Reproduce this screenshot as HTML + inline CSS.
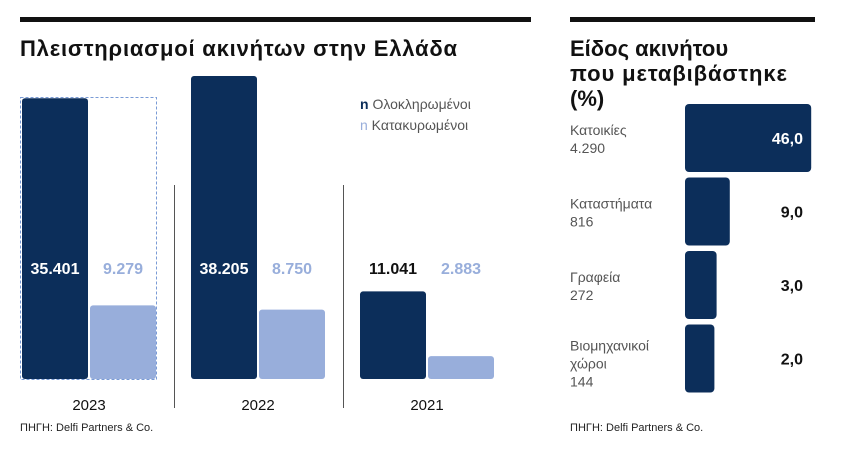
<!DOCTYPE html>
<html><head><meta charset="utf-8"><style>
body{margin:0;width:843px;height:454px;background:#fff;font-family:"Liberation Sans",sans-serif;overflow:hidden;position:relative}
</style></head><body>
<svg id="c" width="843" height="454" xmlns="http://www.w3.org/2000/svg">
<rect x="20" y="17" width="511" height="5" fill="#111"/>
<rect x="570" y="17" width="245" height="5" fill="#111"/>
<text x="20" y="56" font-size="22" font-weight="bold" fill="#111" textLength="437">Πλειστηριασμοί ακινήτων στην Ελλάδα</text>
<text x="570" y="56" font-size="22" font-weight="bold" fill="#111">Είδος ακινήτου</text>
<text x="570" y="81" font-size="22" font-weight="bold" fill="#111" textLength="217">που μεταβιβάστηκε</text>
<text x="570" y="106" font-size="22" font-weight="bold" fill="#111">(%)</text>
<rect x="20.5" y="97.5" width="136" height="282" fill="none" stroke="#7a9bd6" stroke-dasharray="3,2"/>
<line x1="174.5" y1="185" x2="174.5" y2="408" stroke="#555"/>
<line x1="343.5" y1="185" x2="343.5" y2="408" stroke="#555"/>
<text x="360" y="109" font-size="14" fill="#555"><tspan fill="#0c2e5a" font-weight="bold">n</tspan> Ολοκληρωμένοι</text>
<text x="360" y="130" font-size="14" fill="#555"><tspan fill="#98aedb">n</tspan> Κατακυρωμένοι</text>
<text x="20" y="431" font-size="11" fill="#222">ΠΗΓΗ: Delfi Partners &amp; Co.</text>
<text x="570" y="431" font-size="11" fill="#222">ΠΗΓΗ: Delfi Partners &amp; Co.</text>
<g id="left"></g><g id="right"></g>
</svg>
<script>
const years=["2023","2022","2021"];
const completed=[35401,38205,11041];
const auctioned=[9279,8750,2883];
const completedLabels=["35.401","38.205","11.041"];
const auctionedLabels=["9.279","8.750","2.883"];
const types=[["Κατοικίες","4.290"],["Καταστήματα","816"],["Γραφεία","272"],["Βιομηχανικοί","χώροι","144"]];
const shares=[46,9,3,2];
const shareLabels=["46,0","9,0","3,0","2,0"];
const NS="http://www.w3.org/2000/svg";
function mk(t,a,p){const e=document.createElementNS(NS,t);for(const k in a)e.setAttribute(k,a[k]);p.appendChild(e);return e;}
const L=document.getElementById('left'),R=document.getElementById('right');
const base=379,yk=303/38205;
const y=v=>base-v*yk;
const gx=i=>22+i*169;
years.forEach((yr,i)=>{
  const x=gx(i);
  const b1=mk('rect',{x:x,y:y(completed[i]),width:66,height:base-y(completed[i]),rx:3,fill:'#0c2e5a'},L);
  
  
  const b2=mk('rect',{x:x+68,y:y(auctioned[i]),width:66,height:base-y(auctioned[i]),rx:3,fill:'#98aedb'},L);
  
  
  const inside=y(completed[i])<262;
  const t1=mk('text',{x:x+33,y:274,'font-size':16,'font-weight':'bold','text-anchor':'middle',fill:inside?'#fff':'#111'},L);
  t1.textContent=completedLabels[i];
  
  
  const t2=mk('text',{x:x+101,y:274,'font-size':16,'font-weight':'bold','text-anchor':'middle',fill:'#98aedb'},L);
  t2.textContent=auctionedLabels[i];
  
  
  const t3=mk('text',{x:x+67,y:410,'font-size':15,'text-anchor':'middle',fill:'#111'},L);
  t3.textContent=yr;
  
  
});
const wx=v=>25+v*2.2;
types.forEach((lab,i)=>{
  const top=104+i*73.5;
  const r=mk('rect',{x:685,y:top,width:wx(shares[i]),height:68,rx:4,fill:'#0c2e5a'},R);
  
  
  const big=wx(shares[i])>80;
  const t=mk('text',{x:803,y:top+40,'font-size':16,'font-weight':'bold','text-anchor':'end',fill:big?'#fff':'#111'},R);
  t.textContent=shareLabels[i];
  
  
  lab.forEach((s,j)=>{
    const tt=mk('text',{x:570,y:top+31+j*18-(lab.length>2?5:0),'font-size':14,fill:'#555'},R);
    tt.textContent=s;
    
    
  });
});
</script>
</body></html>
